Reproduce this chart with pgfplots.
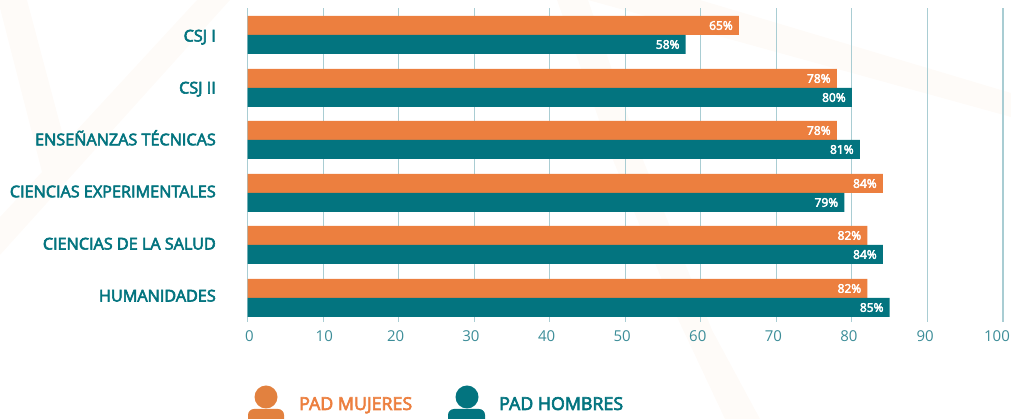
\documentclass[border=0pt]{standalone}
\usepackage{pgfplots}
\pgfplotsset{compat=1.18}
\usepackage{fontspec}
\setmainfont{Open Sans}
\newfontfamily\semi{Open Sans}[FakeBold=3.5]
\definecolor{cteal}{HTML}{03747F}
\definecolor{corange}{HTML}{EC7F3F}
\definecolor{iconor}{HTML}{E2813F}
\definecolor{cgrid}{HTML}{A9CDD3}
\definecolor{ctick}{HTML}{3C8D98}
\definecolor{wm}{HTML}{FEFBF8}
\begin{document}
\begin{tikzpicture}[x=1pt,y=1pt]
\path[use as bounding box] (0,0) rectangle (1011,419);
\begin{scope}[yscale=-1,yshift=-419pt]
\fill[wm] (0,8) -- (0,0) -- (27,0) -- (65,143) -- (197,0) -- (230,0) -- (0,255) -- (0,217) -- (42,172) -- cycle;
\fill[wm] (700,0) -- (1011,93) -- (1011,117) -- (588,0) -- cycle;
\fill[wm] (557,0) -- (588,0) -- (643,160) -- (712,330) -- (760,419) -- (725,419) -- (677,317) -- (613,160) -- cycle;
\end{scope}
\begin{axis}[
  at={(247.5pt,97pt)}, anchor=south west,
  scale only axis, width=755.5pt, height=314pt,
  xbar, bar width=19pt, bar shift=0pt,
  xmin=0, xmax=100, ymin=0, ymax=314,
  xtick={0.24,10.16,19.6,29.58,39.6,49.6,59.6,69.6,79.6,89.7,99.2},
  xticklabels={0,10,20,30,40,50,60,70,80,90,100},
  extra x ticks={0,10,...,100},
  extra x tick labels={},
  extra x tick style={grid=major, major grid style={cgrid, line width=1.1pt}},
  ytick=\empty,
  axis line style={draw=none},
  tick style={draw=none},
  xticklabel style={text=ctick, font=\fontsize{15}{15}\selectfont, yshift=-5pt},
  /pgf/number format/assume math mode=true,
  nodes near coords, point meta=explicit symbolic,
  every node near coord/.append style={anchor=east, text=white, font=\semi\fontsize{12}{12}\selectfont, inner sep=0pt, xshift=-6pt},
  clip=false,
]
\addplot[fill=corange, draw=none] coordinates {
 (65.05,296.5)[65\%] (78,243.5)[78\%] (78,191.5)[78\%] (84.1,138.5)[84\%] (82.05,86.5)[82\%] (82.05,33.5)[82\%]};
\addplot[fill=cteal, draw=none] coordinates {
 (58,277.5)[58\%] (80,224.5)[80\%] (81.05,172.5)[81\%] (79,119.5)[79\%] (84.1,67.5)[84\%] (85,14.5)[85\%]};
\end{axis}
\foreach \y/\t in {377.5/CSJ I, 325.5/CSJ II, 273.7/ENSEÑANZAS TÉCNICAS, 221.7/CIENCIAS EXPERIMENTALES, 169.5/CIENCIAS DE LA SALUD, 117.5/HUMANIDADES}
  \node[anchor=base east, text=cteal, font=\semi\fontsize{16.2}{16.2}\selectfont, inner sep=0pt] at (216,\y) {\t};
\fill[iconor] (266,419-397) circle (11.5);
\fill[iconor, rounded corners=6pt] (248,-8) rectangle (284,10);
\fill[cteal] (467,419-397) circle (11.5);
\fill[cteal, rounded corners=6pt] (448,-8) rectangle (485,10);
\node[anchor=base west, text=corange, font=\semi\fontsize{17.8}{17.8}\selectfont, inner sep=0pt] at (299,9) {PAD MUJERES};
\node[anchor=base west, text=cteal, font=\semi\fontsize{17.8}{17.8}\selectfont, inner sep=0pt] at (499,9) {PAD HOMBRES};
\end{tikzpicture}
\end{document}
